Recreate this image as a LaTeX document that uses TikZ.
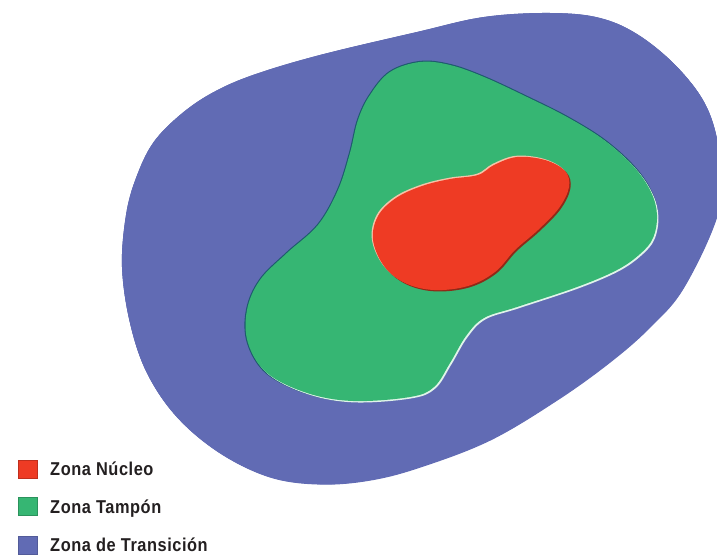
\documentclass[tikz,border=0pt]{standalone}
\usepackage{fontspec}
\setmainfont{Liberation Sans}
\definecolor{zblue}{HTML}{616BB4}
\definecolor{zbluedark}{HTML}{5560A8}
\definecolor{zgreen}{HTML}{36B673}
\definecolor{zgreendark}{HTML}{1E5A6E}
\definecolor{zred}{HTML}{EE3B24}
\definecolor{zreddark}{HTML}{8E2A18}
\definecolor{zredlight}{HTML}{F6C3A8}
\definecolor{ztext}{HTML}{231F20}
\newfontfamily\legendfont[FakeStretch=0.88, LetterSpace=3]{Liberation Sans}
\tikzset{
  sq/.style={minimum width=19pt, minimum height=18pt, inner sep=0pt, line width=0.8pt},
  lab/.style={anchor=base west, inner sep=0pt, text=ztext, font=\legendfont\fontsize{18.6}{20}\selectfont\bfseries}
}
\def\bluepts{(253,75) (320,55) (417,32) (484,17) (550,13) (600,18) (640,36) (680,70) (708,110) (720,160) (718,213) (684,287) (650,327) (610,362) (557,400) (490,440) (420,467) (370,480) (320,484) (270,477) (220,453) (177,417) (147,373) (130,323) (122,267) (126,215) (136,178) (153,143) (180,115) (212,93)}
\def\greenpts{(420,62) (450,65) (484,77) (527,97) (567,117) (604,140) (634,167) (651,192) (657,215) (653,238) (640,254) (617,270) (577,287) (517,307) (484,318) (466,336) (450,363) (434,387) (410,397) (353,401) (307,393) (267,373) (248,343) (247,310) (260,280) (287,253) (318,225) (338,190) (350,153) (358,120) (370,95) (390,72)}
\def\redpts{(517,157) (545,160) (565,171) (569,187) (559,208) (538,230) (515,250) (495,272) (468,286) (434,290) (405,283) (384,266) (373,240) (378,216) (396,198) (422,186) (450,179) (478,175) (494,165)}
\begin{document}
\begin{tikzpicture}[x=1pt,y=-1pt]
\useasboundingbox (0,0) rectangle (717,554);
\clip (0,0) rectangle (717,554);
% transition zone
\fill[zbluedark] plot[smooth cycle, tension=0.6] coordinates {\bluepts};
\fill[zblue, shift={(0.3,0.6)}] plot[smooth cycle, tension=0.6] coordinates {\bluepts};
\fill[zblue] plot[smooth cycle, tension=0.6] coordinates {\bluepts};
% buffer zone
\draw[zgreendark, line width=2.2pt] plot[smooth cycle, tension=0.6] coordinates {\greenpts};
\fill[white!85!zgreen, shift={(1.4,1.4)}] plot[smooth cycle, tension=0.6] coordinates {\greenpts};
\fill[zgreen] plot[smooth cycle, tension=0.6] coordinates {\greenpts};
% core zone
\fill[zreddark, shift={(1.4,1.4)}] plot[smooth cycle, tension=0.6] coordinates {\redpts};
\fill[zredlight, shift={(-1.2,-1.2)}] plot[smooth cycle, tension=0.6] coordinates {\redpts};
\fill[zred] plot[smooth cycle, tension=0.6] coordinates {\redpts};
% legend
\node[sq, fill=zred, draw=zred!80!black] (sqr) at (27.5,469) {};
\node[sq, fill=zgreen, draw=zgreen!80!black] (sqg) at (27.5,506.5) {};
\node[sq, fill=zblue, draw=zblue!85!black] (sqb) at (27.5,545) {};
\node[lab] (labr) at (50,475) {Zona Núcleo};
\node[lab] (labg) at (50,513) {Zona Tampón};
\node[lab] (labb) at (50,551) {Zona de Transición};
\end{tikzpicture}
\end{document}
